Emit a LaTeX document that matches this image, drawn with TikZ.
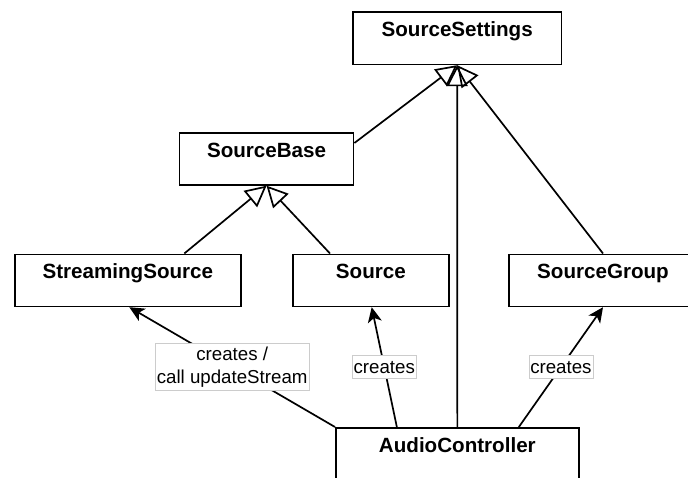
\documentclass[tikz,border=0pt]{standalone}
\usepackage{fontspec}
\setmainfont{Liberation Sans}
\usetikzlibrary{arrows.meta,calc}
\begin{document}
\begin{tikzpicture}[x=1pt, y=-1pt, line width=1.7pt,
  cls/.style={draw=black, fill=white, rectangle, inner sep=0pt, anchor=north west},
  title/.style={font=\fontsize{20.6}{24}\selectfont\bfseries, anchor=base, inner sep=0pt},
  lbl/.style={draw=black!20, line width=0.8pt, fill=white, inner sep=0pt,
    font=\fontsize{18.7}{23.3}\selectfont, align=center},
  gen/.style={-{Triangle[open,length=21pt,width=21pt]}},
  uses/.style={-{Stealth[length=15pt,width=14pt,inset=4pt]}}]
\useasboundingbox (0,0) rectangle (688,477);
\clip (0,0) rectangle (688,477);

% class boxes
\node[cls, minimum width=208.7pt, minimum height=52.5pt] (ss) at (352,11) {};
\node[cls, minimum width=174pt, minimum height=52pt] (sb) at (178.7,132) {};
\node[cls, minimum width=226pt, minimum height=52pt] (sts) at (14,253.5) {};
\node[cls, minimum width=156pt, minimum height=52pt] (src) at (292,253.5) {};
\node[cls, minimum width=200pt, minimum height=52pt] (sg) at (508,253.5) {};
\node[cls, minimum width=243pt, minimum height=80pt] (ac) at (335,427) {};

% class names
\node[title] (ssT) at ($(ss.north)+(0,25)$) {SourceSettings};
\node[title] (sbT) at ($(sb.north)+(0,25)$) {SourceBase};
\node[title] (stsT) at ($(sts.north)+(0,25)$) {StreamingSource};
\node[title] (srcT) at ($(src.north)+(0,25)$) {Source};
\node[title] (sgT) at ($(sg.north west)+(95,25)$) {SourceGroup};
\node[title] (acT) at ($(ac.north)+(0,25)$) {AudioController};

% generalisations
\draw[gen] ($(sb.north east)+(0,11)$) -- (ss.south);
\draw[gen] (ac.north) -- (ss.south);
\draw[gen] ($(sg.north west)+(95,0)$) -- (ss.south);
\draw[gen] ($(sts.north west)+(170.3,0)$) -- (sb.south);
\draw[gen] ($(src.north west)+(38,0)$) -- (sb.south);

% creation links
\draw[uses] (ac.north west) --
  node[lbl, minimum width=154.3pt, minimum height=46.6pt] (l1) {creates /\\call updateStream}
  ($(sts.south west)+(115.3,0)$);
\draw[uses] ($(ac.north)+(-60.5,0)$) --
  node[lbl, minimum width=64pt, minimum height=22.6pt] (l2) {creates}
  ($(src.south west)+(79.7,0)$);
\draw[uses] ($(ac.north)+(61.5,0)$) --
  node[lbl, minimum width=64pt, minimum height=22.6pt] (l3) {creates}
  ($(sg.south west)+(95,0)$);
\end{tikzpicture}
\end{document}
